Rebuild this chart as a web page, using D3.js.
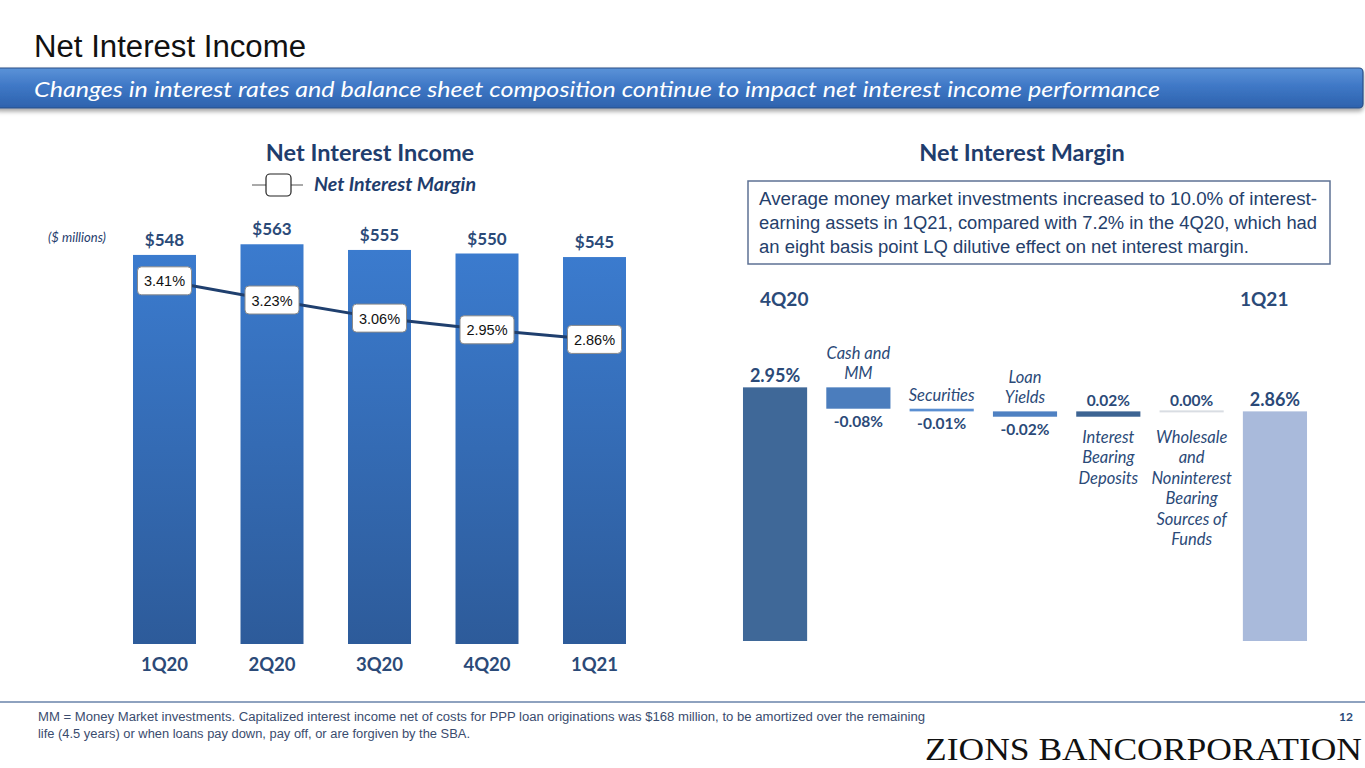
<!DOCTYPE html>
<html>
<head>
<meta charset="utf-8">
<script src="https://cdn.jsdelivr.net/npm/d3@7"></script>
<style>
  body { margin: 0; background: #fff; }
  svg { display: block; }
</style>
</head>
<body>
<div id="chart"></div>
<script>
// left chart data
const quarters = ["1Q20", "2Q20", "3Q20", "4Q20", "1Q21"];
const niiValues = [548, 563, 555, 550, 545];
const nimValues = [3.41, 3.23, 3.06, 2.95, 2.86];

// waterfall data
const wfCategories = ["4Q20", "Cash and MM", "Securities", "Loan Yields", "Interest Bearing Deposits",
    "Wholesale and Noninterest Bearing Sources of Funds", "1Q21"];
const wfValues = [2.95, -0.08, -0.01, -0.02, 0.02, 0.00, 2.86];
const wfLabelLines = [[], ["Cash and", "MM"], ["Securities"], ["Loan", "Yields"],
    ["Interest", "Bearing", "Deposits"], ["Wholesale", "and", "Noninterest", "Bearing", "Sources of", "Funds"], []];
const wfColors = ["#3f6898", "#4b7dbd", "#5a8fd2", "#4f81c2", "#3d6493", "#d9dde3", "#a9badb"];

const boxLines = [
    "Average money market investments increased to 10.0% of interest-",
    "earning assets in 1Q21, compared with 7.2% in the 4Q20, which had",
    "an eight basis point LQ dilutive effect on net interest margin."
];
const footLines = [
    "MM = Money Market investments. Capitalized interest income net of costs for PPP loan originations was $168 million, to be amortized over the remaining",
    "life (4.5 years) or when loans pay down, pay off, or are forgiven by the SBA."
];

const W = 1365, H = 768;
const navy = "#1f3d6d";
const calibri = "Lato, 'Open Sans', sans-serif";
const narrow = "'Liberation Sans Narrow', 'Liberation Sans', Arial, sans-serif";

let svg = d3.select("#chart").append("svg")
    .attr("width", W)
    .attr("height", H);

let defs = svg.append("defs");

// bar gradient
let barGrad = defs.append("linearGradient")
    .attr("id", "barGrad")
    .attr("x1", 0).attr("y1", 0).attr("x2", 0).attr("y2", 1);
barGrad.append("stop").attr("offset", "0%").attr("stop-color", "#3b7bce");
barGrad.append("stop").attr("offset", "100%").attr("stop-color", "#2d5b9a");

// banner gradient
let bannerGrad = defs.append("linearGradient")
    .attr("id", "bannerGrad")
    .attr("x1", 0).attr("y1", 0).attr("x2", 0).attr("y2", 1);
bannerGrad.append("stop").attr("offset", "0%").attr("stop-color", "#5b93d8");
bannerGrad.append("stop").attr("offset", "45%").attr("stop-color", "#3f78c6");
bannerGrad.append("stop").attr("offset", "100%").attr("stop-color", "#2d62ad");

let shadow = defs.append("filter").attr("id", "shadow")
    .attr("x", "-5%").attr("y", "-20%").attr("width", "110%").attr("height", "160%");
shadow.append("feDropShadow").attr("dx", 0).attr("dy", 3).attr("stdDeviation", 2)
    .attr("flood-color", "#000").attr("flood-opacity", 0.35);

// ---- header ----
svg.append("text")
    .attr("x", 34).attr("y", 57)
    .attr("font-family", narrow)
    .attr("font-size", 31)
    .attr("fill", "#111")
    .attr("textLength", 272)
    .attr("lengthAdjust", "spacingAndGlyphs")
    .text("Net Interest Income");

svg.append("rect")
    .attr("x", -6).attr("y", 68)
    .attr("width", W + 4).attr("height", 40)
    .attr("rx", 4)
    .attr("fill", "url(#bannerGrad)")
    .attr("stroke", "#2a4f86")
    .attr("stroke-width", 1.2)
    .attr("filter", "url(#shadow)");

svg.append("text")
    .attr("x", 34).attr("y", 97)
    .attr("font-family", calibri)
    .attr("font-style", "italic")
    .attr("font-size", 21)
    .attr("fill", "#fff")
    .attr("textLength", 1126)
    .attr("lengthAdjust", "spacingAndGlyphs")
    .text("Changes in interest rates and balance sheet composition continue to impact net interest income performance");

// ---- left chart: bars + line ----
let x = d3.scaleBand()
    .domain(quarters)
    .range([110.75, 648.25])
    .paddingInner(0.414)
    .paddingOuter(0.207);

let y = d3.scaleLinear().domain([0, 600]).range([644, 218]);
let y2 = d3.scaleLinear().domain([0, 4]).range([644, 218]);

let left = svg.append("g").attr("class", "left-chart");

left.append("text")
    .attr("x", 370).attr("y", 161)
    .attr("text-anchor", "middle")
    .attr("font-family", calibri)
    .attr("font-weight", "bold")
    .attr("font-size", 23.5)
    .attr("fill", navy)
    .text("Net Interest Income");

// legend
left.append("line")
    .attr("x1", 252).attr("x2", 303).attr("y1", 185).attr("y2", 185)
    .attr("stroke", "#555").attr("stroke-width", 1);
left.append("rect")
    .attr("x", 266).attr("y", 174).attr("width", 25).attr("height", 22).attr("rx", 4)
    .attr("fill", "#fff").attr("stroke", "#222").attr("stroke-width", 1.2);
left.append("text")
    .attr("x", 314).attr("y", 191)
    .attr("font-family", calibri)
    .attr("font-weight", "bold")
    .attr("font-style", "italic")
    .attr("font-size", 18)
    .attr("fill", navy)
    .attr("textLength", 162)
    .attr("lengthAdjust", "spacingAndGlyphs")
    .text("Net Interest Margin");

left.append("text")
    .attr("x", 48).attr("y", 242)
    .attr("font-family", calibri)
    .attr("font-style", "italic")
    .attr("font-size", 13)
    .attr("fill", navy)
    .text("($ millions)");

left.selectAll(".bars")
    .data(quarters)
    .enter().append("rect")
    .attr("class", "bars")
    .attr("x", d => x(d))
    .attr("width", x.bandwidth())
    .attr("y", (d, i) => y(niiValues[i]))
    .attr("height", (d, i) => y(0) - y(niiValues[i]))
    .attr("fill", "url(#barGrad)");

left.selectAll(".bar-labels")
    .data(quarters)
    .enter().append("text")
    .attr("class", "bar-labels")
    .attr("x", d => x(d) + x.bandwidth() / 2)
    .attr("y", (d, i) => y(niiValues[i]) - 9)
    .attr("text-anchor", "middle")
    .attr("font-family", calibri)
    .attr("font-weight", "bold")
    .attr("font-size", 17)
    .attr("fill", "#2b4a78")
    .text((d, i) => "$" + niiValues[i]);

left.selectAll(".x-labels")
    .data(quarters)
    .enter().append("text")
    .attr("class", "x-labels")
    .attr("x", d => x(d) + x.bandwidth() / 2)
    .attr("y", 671)
    .attr("text-anchor", "middle")
    .attr("font-family", calibri)
    .attr("font-weight", "bold")
    .attr("font-size", 18.5)
    .attr("fill", "#2b4a78")
    .text(d => d);

let line = d3.line()
    .x((d, i) => x(quarters[i]) + x.bandwidth() / 2)
    .y(d => y2(d));

left.append("path")
    .datum(nimValues)
    .attr("d", line)
    .attr("fill", "none")
    .attr("stroke", "#1f3f6e")
    .attr("stroke-width", 3);

let nimBoxes = left.selectAll(".nim")
    .data(nimValues)
    .enter().append("g")
    .attr("class", "nim")
    .attr("transform", (d, i) => `translate(${x(quarters[i]) + x.bandwidth() / 2},${y2(d)})`);

nimBoxes.append("rect")
    .attr("x", -27).attr("y", -14)
    .attr("width", 54).attr("height", 28)
    .attr("rx", 4)
    .attr("fill", "#fff")
    .attr("stroke", "#8a8a8a")
    .attr("stroke-width", 1);

nimBoxes.append("text")
    .attr("y", 5.5)
    .attr("text-anchor", "middle")
    .attr("font-family", "'Liberation Sans', Arial, sans-serif")
    .attr("font-size", 14.5)
    .attr("fill", "#111")
    .text(d => d.toFixed(2) + "%");

// ---- right chart: waterfall ----
let right = svg.append("g").attr("class", "right-chart");

right.append("text")
    .attr("x", 1022).attr("y", 161)
    .attr("text-anchor", "middle")
    .attr("font-family", calibri)
    .attr("font-weight", "bold")
    .attr("font-size", 23.5)
    .attr("fill", navy)
    .text("Net Interest Margin");

right.append("rect")
    .attr("x", 748).attr("y", 181)
    .attr("width", 582).attr("height", 83)
    .attr("fill", "#fff")
    .attr("stroke", "#5d7194")
    .attr("stroke-width", 1.5);

right.selectAll(".box-text")
    .data(boxLines)
    .enter().append("text")
    .attr("class", "box-text")
    .attr("x", 759)
    .attr("y", (d, i) => 205 + i * 24)
    .attr("font-family", narrow)
    .attr("font-size", 18)
    .attr("fill", "#25406b")
    .attr("textLength", (d, i) => [558, 558, 490][i])
    .attr("lengthAdjust", "spacingAndGlyphs")
    .text(d => d);

let wx = d3.scaleBand()
    .domain(wfCategories)
    .range([733.4, 1316.6])
    .paddingInner(0.23)
    .paddingOuter(0.115);

let wy = d3.scaleLinear().domain([2.0, 3.0]).range([641, 374]);

// running totals for the waterfall
let wfData = [];
let running = 0;
wfValues.forEach(function(v, i) {
    let isTotal = (i === 0 || i === wfValues.length - 1);
    let start, end;
    if (isTotal) {
        start = wy.domain()[0];
        end = v;
        running = v;
    } else {
        start = running;
        end = running + v;
        running = end;
    }
    wfData.push({cat: wfCategories[i], value: v, start: start, end: end, total: isTotal,
        lines: wfLabelLines[i], color: wfColors[i]});
});

right.selectAll(".wf-bars")
    .data(wfData)
    .enter().append("rect")
    .attr("class", "wf-bars")
    .attr("x", d => wx(d.cat))
    .attr("width", wx.bandwidth())
    .attr("y", d => Math.min(wy(d.start), wy(d.end)) - (d.value === 0 ? 1 : 0))
    .attr("height", d => Math.max(2, Math.abs(wy(d.start) - wy(d.end))))
    .attr("fill", d => d.color);

// period headings
right.selectAll(".period")
    .data(wfData.filter(d => d.total))
    .enter().append("text")
    .attr("class", "period")
    .attr("x", (d, i) => i === 0 ? 760 : 1240)
    .attr("y", 306)
    .attr("font-family", calibri)
    .attr("font-weight", "bold")
    .attr("font-size", 19)
    .attr("fill", "#2b4a78")
    .text(d => d.cat);

// value labels
right.selectAll(".wf-values")
    .data(wfData)
    .enter().append("text")
    .attr("class", "wf-values")
    .attr("x", d => wx(d.cat) + wx.bandwidth() / 2)
    .attr("y", d => {
        if (d.total) return wy(d.end) - 5;
        if (d.value < 0) return wy(d.end) + 18;
        return Math.min(wy(d.start), wy(d.end)) - 5;
    })
    .attr("text-anchor", "middle")
    .attr("font-family", calibri)
    .attr("font-weight", "bold")
    .attr("font-size", d => d.total ? 18 : 15.5)
    .attr("fill", "#2b4a78")
    .text(d => d.value.toFixed(2) + "%");

// category labels: above negatives, below non-negatives (sharing one top line)
let belowY = d3.max(wfData.filter(d => !d.total && d.value >= 0),
    d => Math.max(wy(d.start), wy(d.end))) + 26;

wfData.forEach(function(d) {
    if (d.total) return;
    let cx = wx(d.cat) + wx.bandwidth() / 2;
    let n = d.lines.length;
    let lh = 20.5;
    let baseY;
    if (d.value < 0) {
        baseY = Math.min(wy(d.start), wy(d.end)) - 8 - (n - 1) * lh;
    } else {
        baseY = belowY;
    }
    right.selectAll(null)
        .data(d.lines)
        .enter().append("text")
        .attr("x", cx)
        .attr("y", (l, j) => baseY + j * lh)
        .attr("text-anchor", "middle")
        .attr("font-family", calibri)
        .attr("font-style", "italic")
        .attr("font-size", 16.5)
        .attr("fill", "#2b4a78")
        .text(l => l);
});

// ---- footer ----
svg.append("line")
    .attr("x1", 0).attr("x2", W).attr("y1", 702).attr("y2", 702)
    .attr("stroke", "#8ea2bf").attr("stroke-width", 2);

svg.selectAll(".foot")
    .data(footLines)
    .enter().append("text")
    .attr("class", "foot")
    .attr("x", 38)
    .attr("y", (d, i) => 721 + i * 17)
    .attr("font-family", narrow)
    .attr("font-size", 12.5)
    .attr("fill", "#3a4c6e")
    .attr("textLength", (d, i) => [887, 432][i])
    .attr("lengthAdjust", "spacingAndGlyphs")
    .text(d => d);

svg.append("text")
    .attr("x", 1353).attr("y", 721)
    .attr("text-anchor", "end")
    .attr("font-family", calibri)
    .attr("font-weight", "bold")
    .attr("font-size", 12)
    .attr("fill", "#2b4a78")
    .text("12");

svg.append("text")
    .attr("x", 925).attr("y", 760)
    .attr("font-family", "'Liberation Serif', 'DejaVu Serif', serif")
    .attr("font-size", 31)
    .attr("fill", "#111")
    .attr("textLength", 437)
    .attr("lengthAdjust", "spacingAndGlyphs")
    .text("ZIONS BANCORPORATION");
</script>
</body>
</html>
